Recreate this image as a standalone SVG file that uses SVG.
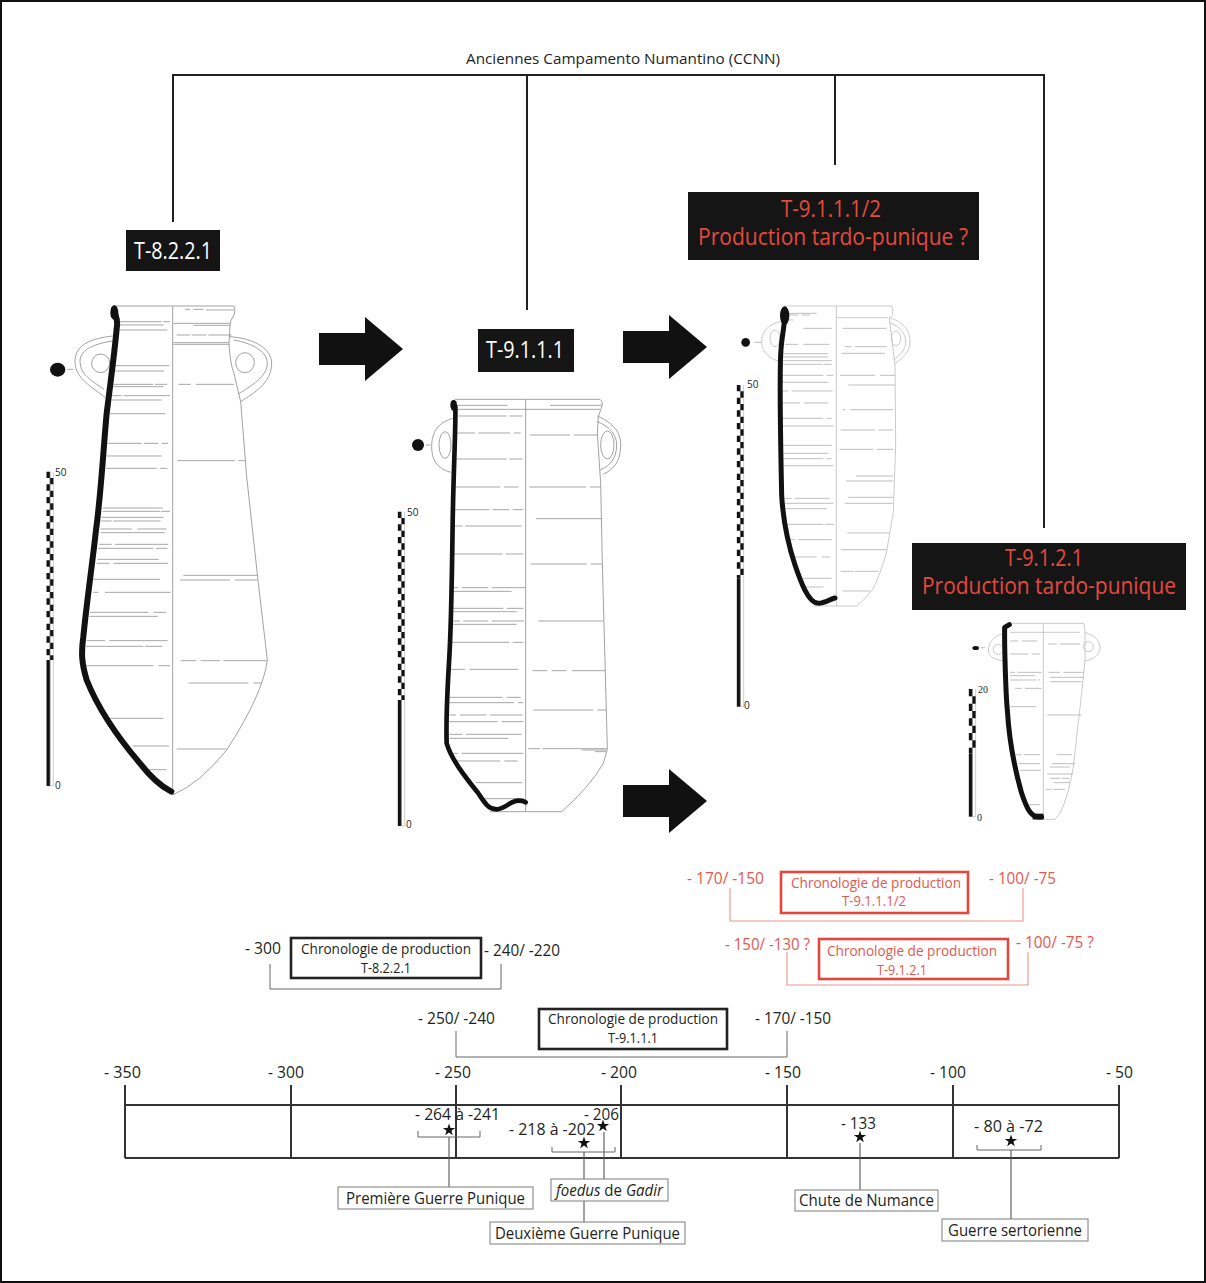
<svg xmlns="http://www.w3.org/2000/svg" width="1206" height="1283" viewBox="0 0 1206 1283">
<style>
text{font-family:"Open Sans","Noto Sans","Liberation Sans",sans-serif;fill:#231f20}
.a{font-size:16px}.b{font-size:15px}.s{font-size:14px}.m{font-size:10px}
.w{font-size:23px;fill:#fff}.r{font-size:23px;fill:#e5493d}
.ra{font-size:16px;fill:#e5584c}.rb{font-size:15px;fill:#e5584c}
.line{fill:none;stroke:#231f20;stroke-width:2}
.tl{fill:none;stroke:#333;stroke-width:2}
.tick{fill:none;stroke:#999;stroke-width:2.6}
.tick3{fill:none;stroke:#b5b5b5;stroke-width:2.6}
.out{fill:none;stroke:#8a8a8a;stroke-width:2.4;stroke-linejoin:round}
.out3{fill:none;stroke:#bdbdbd;stroke-width:2.4;stroke-linejoin:round}
.prof{fill:none;stroke:#111;stroke-linecap:round;stroke-linejoin:round}
.bb{fill:none;stroke:#666;stroke-width:1}
.rbr{fill:none;stroke:#e9968d;stroke-width:1.1}
.pb{fill:#fff;stroke:#222;stroke-width:2.6}
.prb{fill:#fff;stroke:#e0483c;stroke-width:2.6}
.ev{fill:#fff;stroke:#888;stroke-width:1.1}
.lead{fill:none;stroke:#555;stroke-width:1.1}
.c1{fill:none;stroke:#111;stroke-width:11;stroke-dasharray:19 19}
.c2{fill:none;stroke:#111;stroke-width:11;stroke-dasharray:19 19;stroke-dashoffset:19}
</style>
<defs>
<polygon id="star" points="0,-6.5 1.5,-2 6.2,-2 2.4,.8 3.8,5.3 0,2.5 -3.8,5.3 -2.4,.8 -6.2,-2 -1.5,-2" fill="#111"/>
<polygon id="arrow" points="0,16 46,16 46,0 84,32 46,64 46,48 0,48" fill="#111"/>
</defs>
<rect x="1" y="1" width="1204" height="1281" fill="#fff" stroke="#111" stroke-width="2"/>

<g id="connectors">
<path class="line" d="M173 222V75H1044V528M527 75V310M835 75V165"/>
<use href="#arrow" x="319" y="317"/>
<use href="#arrow" x="623" y="315"/>
<use href="#arrow" x="623" y="769"/>
</g>
<text id="title" x="466" y="64" class="b" textLength="314" lengthAdjust="spacingAndGlyphs">Anciennes Campamento Numantino (CCNN)</text>

<g id="node-t8221"><rect x="126" y="230" width="94" height="41" fill="#151515"/><text x="134" y="259" class="w" textLength="78" lengthAdjust="spacingAndGlyphs">T-8.2.2.1</text></g>
<g id="node-t9111"><rect x="478" y="329" width="96" height="43" fill="#151515"/><text x="486" y="358" class="w" textLength="78" lengthAdjust="spacingAndGlyphs">T-9.1.1.1</text></g>
<g id="node-t91112"><rect x="688" y="192" width="291" height="68" fill="#151515"/><text x="781" y="217" class="r" textLength="100" lengthAdjust="spacingAndGlyphs">T-9.1.1.1/2</text><text x="698" y="245" class="r" textLength="270" lengthAdjust="spacingAndGlyphs">Production tardo-punique ?</text></g>
<g id="node-t9121"><rect x="912" y="543" width="274" height="67" fill="#151515"/><text x="1005" y="566" class="r" textLength="78" lengthAdjust="spacingAndGlyphs">T-9.1.2.1</text><text x="922" y="594" class="r" textLength="254" lengthAdjust="spacingAndGlyphs">Production tardo-punique</text></g>

<g id="vessel1" transform="translate(30 290) scale(.33333)">
<path class="out" d="M428 50V1515M250 48H612Q618 60 612 75Q600 90 600 108L597 160Q600 220 612 250L632 335L650 560L685 880L712 1110Q700 1210 590 1380Q510 1480 428 1515M248 138C190 145 135 160 135 215C135 265 185 290 225 322M254 152C200 160 150 175 150 215C150 255 190 275 222 298M597 140C680 145 725 180 725 220C725 280 670 310 632 335M610 150C670 160 712 185 712 220C712 260 660 290 625 312"/>
<ellipse class="out" cx="212" cy="220" rx="27" ry="28"/>
<ellipse class="out" cx="645" cy="218" rx="28" ry="30"/>
<path class="tick" d="M268 95H395M400 95H420M268 105H400M268 120H412M255 227H418M250 243H402M250 283H370M375 283H412M250 290H400M245 317H275M280 317H420M245 330H395M240 371H406M232 460H335M342 460H385M395 460H415M230 498H395M228 535H380M390 535H412M218 654H398M218 664H390M392 664H420M215 682H400M212 693H245M250 693H392M212 717H305M322 717H410M212 728H404M208 763H245M255 763H415M205 775H370M378 775H412M203 808H386M200 820H238M250 820H415M190 868H390M190 907H205M225 907H422M180 967H355M370 967H408M178 979H384M170 1052H225M238 1052H413M168 1069H340M345 1069H397M168 1127H370M385 1127H420M230 1285H400M280 1368H295M308 1368H417M340 1439H410M465 58H480M490 58H520M528 60H612M430 100H600M490 106H600M440 135H480M485 135H530M535 135H605M430 158H597M430 163H597M445 283H482M498 283H612M442 512H615M625 512H645M460 856H682M450 870H600M615 870H682M452 1112H498M512 1112H570M580 1112H710M475 1179H655M670 1179H695M440 1377H590"/>
<path class="prof" stroke-width="18" d="M252 58C254 75 266 85 260 115C256 170 240 290 230 370C220 480 212 620 198 720C186 830 172 920 160 1040C153 1090 155 1120 170 1170C210 1270 270 1350 330 1420C365 1465 395 1490 424 1505"/>
<ellipse cx="253" cy="68" rx="12" ry="22" fill="#111"/>
<ellipse cx="83" cy="239" rx="23" ry="21" fill="#111"/>
<path class="tick" d="M112 238H130"/>
<path class="c1" d="M55 545V1110"/><path class="c2" d="M65 545V1110"/>
<path d="M55 1110V1488" stroke="#111" stroke-width="11" fill="none"/><path d="M60 545V1488H70V545" fill="none" stroke="#999" stroke-width="1.5"/>
</g>
<text x="55" y="476" class="m">50</text><text x="55" y="789" class="m">0</text>

<g id="vessel2" transform="translate(390 390) scale(.33333)">
<path class="out" d="M407 28V1265M195 28H630Q638 32 637 45Q632 60 625 80L622 130L632 280L637 520L650 1000L652 1078L640 1120Q600 1190 515 1265H300M200 58H630M188 85C140 100 125 130 125 170C125 210 140 235 182 247M622 78C670 100 692 125 692 165C692 215 670 240 640 252M622 95C660 110 680 135 680 165C680 205 660 228 630 240"/>
<ellipse class="out" cx="165" cy="165" rx="18" ry="40"/>
<ellipse class="out" cx="652" cy="165" rx="20" ry="42"/>
<path class="tick" d="M200 46H352M480 46H635M205 78H350M358 78H398M195 129H255M265 129H360M372 129H392M200 207H350M358 207H398M198 291H330M342 291H385M195 359H298M308 359H358M368 359H400M195 408H218M225 408H395M190 492H338M347 492H400M190 593H205M215 593H295M305 593H405M190 604H365M190 655H340M350 655H400M190 665H380M190 693H210M220 693H295M305 693H402M190 703H380M185 757H358M368 757H400M180 838H225M238 838H385M178 922H338M350 922H392M178 938H372M385 938H400M178 975H198M210 975H290M300 975H398M178 995H322M335 995H400M178 1033H218M228 1033H395M178 1045H355M185 1090H205M215 1090H400M195 1113H330M343 1113H383M230 1178H245M258 1178H397M285 1226H400M420 135H540M550 135H625M418 291H588M600 291H632M438 386H635M422 522H590M602 522H637M445 693H640M428 842H472M485 842H530M545 842H647M430 960H610M622 960H650M415 1076H450M458 1076H650M575 1080H650M615 1085H650"/>
<path class="prof" stroke-width="14" d="M196 50C198 100 190 250 188 400C186 550 184 700 178 800C172 900 168 1000 170 1060C185 1110 225 1160 265 1210C285 1240 295 1258 320 1258C350 1255 360 1232 385 1232Q400 1232 407 1237"/>
<ellipse cx="191" cy="46" rx="10" ry="17" fill="#111"/>
<circle cx="84" cy="165" r="18" fill="#111"/>
<path class="tick" d="M108 165H122"/>
<path class="c1" d="M29 365V930"/><path class="c2" d="M39 365V930"/>
<path d="M29 930V1308" stroke="#111" stroke-width="11" fill="none"/><path d="M34 365V1308H44V365" fill="none" stroke="#999" stroke-width="1.5"/>
</g>
<text x="407" y="516" class="m">50</text><text x="406" y="828" class="m">0</text>

<g id="vessel3" transform="translate(730 295) scale(.33333)">
<path class="out3" d="M319 33V933M160 33H485Q490 45 488 60L478 70L495 210L497 450L490 650L470 770Q450 840 430 880Q405 915 380 933H250M320 68H475M160 78C115 85 95 110 95 140C95 170 115 190 150 200M478 68C520 80 540 105 540 140C540 170 520 190 495 205M478 82C510 95 527 115 527 140C527 165 510 180 490 195"/>
<ellipse class="out3" cx="135" cy="130" rx="15" ry="25"/>
<ellipse class="out3" cx="498" cy="130" rx="14" ry="22"/>
<path class="tick3" d="M175 55H260M175 60H205M215 60H240M170 75H190M220 100H305M165 148H205M220 148H298M160 176H295M160 186H295M160 197H305M160 208H275M280 208H305M158 241H280M290 241H310M158 262H295M158 288H175M185 288H308M158 324H210M222 324H295M158 370H280M290 370H305M158 393H310M160 451H305M160 475H295M160 491H280M290 491H305M160 512H310M165 610H185M195 610H300M165 625H310M165 641H290M170 688H280M285 688H312M180 734H195M205 734H305M195 786H260M275 786H300M215 850H305M225 876H280M338 100H470M345 155H365M375 155H470M335 175H465M330 241H435M450 241H495M355 270H495M338 344H345M360 344H490M332 405H435M445 405H490M328 463H430M440 463H490M378 543H490M348 558H490M355 607H490M345 625H488M352 714H478M332 764H470M332 829H370M375 829H445M338 888H420"/>
<path class="prof" stroke-width="15" d="M163 50C168 85 155 110 152 180C148 280 152 450 155 600C160 690 175 750 195 810C212 860 235 925 265 925C285 925 300 912 315 909"/>
<ellipse cx="164" cy="62" rx="14" ry="28" fill="#111"/>
<circle cx="47" cy="142" r="13" fill="#111"/>
<path class="tick3" d="M72 142H95"/>
<path class="c1" d="M26 270V850"/><path class="c2" d="M36 270V850"/>
<path d="M26 850V1235" stroke="#111" stroke-width="11" fill="none"/><path d="M31 270V1235H41V270" fill="none" stroke="#999" stroke-width="1.5"/>
</g>
<text x="747" y="388" class="m">50</text><text x="744" y="709" class="m">0</text>

<g id="vessel4" transform="translate(960 610) scale(.33333)">
<path class="out3" d="M250 40V628M145 40H372L375 65V150L365 250L340 470Q325 560 300 610L285 628H215M150 67H360M135 70C100 75 85 100 85 120C85 140 105 150 130 152M375 68C405 75 420 95 420 112C420 135 400 150 375 152"/>
<circle class="out3" cx="115" cy="118" r="15"/>
<circle class="out3" cx="385" cy="110" r="15"/>
<path class="tick3" d="M150 93H175M185 93H232M265 102H290M300 102H360M150 132H205M215 132H240M150 187H165M172 187H245M265 187H300M310 187H372M150 197H225M150 210H230M235 210H240M270 215H365M270 202H372M165 235H185M195 235H245M150 290H228M262 315H365M168 434H185M192 434H240M290 434H335M175 461H240M275 461H345M180 481H243M270 471H330M262 492H340M270 505H300M306 505H328M280 518H330M258 538H275M280 538H315M205 584H240"/>
<path class="prof" stroke-width="15" d="M148 44L134 52C133 100 137 250 142 300C148 400 165 480 185 550C200 595 212 620 235 621H245"/>
<rect x="218" y="611" width="32" height="17" fill="#111"/>
<ellipse cx="47" cy="114" rx="10" ry="6" fill="#111"/>
<path class="tick3" d="M62 113H75"/>
<path class="c1" style="stroke-dasharray:22 22" d="M32 237V430"/><path class="c2" style="stroke-dasharray:22 22;stroke-dashoffset:22" d="M42 237V430"/>
<path d="M32 430V620" stroke="#111" stroke-width="11" fill="none"/><path d="M37 237V620H47V237" fill="none" stroke="#999" stroke-width="1.5"/>
</g>
<text x="978" y="693" class="m" style="font-family:'Liberation Serif',serif">20</text><text x="977" y="821" class="m" style="font-family:'Liberation Serif',serif">0</text>

<g id="chrono-red">
<path class="rbr" d="M730 888V921H1023V888M787 952V985H1028V952"/>
<text x="687" y="884" class="ra" textLength="77" lengthAdjust="spacingAndGlyphs">- 170/ -150</text>
<rect class="prb" x="781" y="872" width="187" height="41"/>
<text x="791" y="888" class="rb" textLength="170" lengthAdjust="spacingAndGlyphs">Chronologie de production</text>
<text x="842" y="906" class="rb" textLength="64" lengthAdjust="spacingAndGlyphs">T-9.1.1.1/2</text>
<text x="989" y="884" class="ra" textLength="67" lengthAdjust="spacingAndGlyphs">- 100/ -75</text>
<text x="725" y="950" class="ra" textLength="85" lengthAdjust="spacingAndGlyphs">- 150/ -130 ?</text>
<rect class="prb" x="819" y="939" width="189" height="40"/>
<text x="827" y="956" class="rb" textLength="170" lengthAdjust="spacingAndGlyphs">Chronologie de production</text>
<text x="877" y="975" class="rb" textLength="50" lengthAdjust="spacingAndGlyphs">T-9.1.2.1</text>
<text x="1016" y="948" class="ra" textLength="78" lengthAdjust="spacingAndGlyphs">- 100/ -75 ?</text>
</g>

<g id="chrono-t8221">
<path class="bb" d="M270 964V989H501V964"/>
<text x="245" y="954" class="a" textLength="36" lengthAdjust="spacingAndGlyphs">- 300</text>
<rect class="pb" x="291" y="938" width="190" height="40"/>
<text x="301" y="954" class="b" textLength="170" lengthAdjust="spacingAndGlyphs">Chronologie de production</text>
<text x="361" y="973" class="s" textLength="50" lengthAdjust="spacingAndGlyphs">T-8.2.2.1</text>
<text x="484" y="956" class="a" textLength="76" lengthAdjust="spacingAndGlyphs">- 240/ -220</text>
</g>
<g id="chrono-t9111">
<path class="bb" d="M456 1031V1057H787V1031"/>
<text x="418" y="1024" class="a" textLength="77" lengthAdjust="spacingAndGlyphs">- 250/ -240</text>
<rect class="pb" x="539" y="1009" width="188" height="40"/>
<text x="548" y="1024" class="b" textLength="170" lengthAdjust="spacingAndGlyphs">Chronologie de production</text>
<text x="608" y="1043" class="s" textLength="50" lengthAdjust="spacingAndGlyphs">T-9.1.1.1</text>
<text x="755" y="1024" class="a" textLength="76" lengthAdjust="spacingAndGlyphs">- 170/ -150</text>
</g>

<g id="timeline">
<path class="tl" d="M125 1105H1119M125 1158H1119M125 1085V1158M291 1085V1158M456 1085V1158M621 1085V1158M787 1085V1158M953 1085V1158M1119 1085V1158"/>
<text x="104" y="1078" class="a" textLength="37" lengthAdjust="spacingAndGlyphs">- 350</text>
<text x="268" y="1078" class="a" textLength="36" lengthAdjust="spacingAndGlyphs">- 300</text>
<text x="435" y="1078" class="a" textLength="36" lengthAdjust="spacingAndGlyphs">- 250</text>
<text x="601" y="1078" class="a" textLength="36" lengthAdjust="spacingAndGlyphs">- 200</text>
<text x="765" y="1078" class="a" textLength="36" lengthAdjust="spacingAndGlyphs">- 150</text>
<text x="930" y="1078" class="a" textLength="36" lengthAdjust="spacingAndGlyphs">- 100</text>
<text x="1106" y="1078" class="a" textLength="27" lengthAdjust="spacingAndGlyphs">- 50</text>
</g>

<g id="event-punique1">
<path class="bb" d="M418 1131V1137H480V1131"/>
<path class="lead" stroke="#888" d="M449 1137V1187"/>
<text x="415" y="1120" class="a" textLength="85" lengthAdjust="spacingAndGlyphs">- 264  à -241</text>
<use href="#star" x="449" y="1130"/>
<rect class="ev" x="338" y="1187" width="195" height="22"/>
<text x="346" y="1204" class="a" textLength="179" lengthAdjust="spacingAndGlyphs">Première Guerre Punique</text>
</g>
<g id="event-punique2">
<path class="bb" d="M552 1147V1152H615V1147"/>
<path class="lead" d="M584 1152V1222"/>
<text x="509" y="1135" class="a" textLength="86" lengthAdjust="spacingAndGlyphs">- 218  à -202</text>
<use href="#star" x="584" y="1143"/>
<rect class="ev" x="490" y="1222" width="195" height="22"/>
<text x="495" y="1239" class="a" textLength="185" lengthAdjust="spacingAndGlyphs">Deuxième Guerre Punique</text>
</g>
<g id="event-foedus">
<path class="lead" d="M604 1132V1179"/>
<text x="584" y="1120" class="a" textLength="35" lengthAdjust="spacingAndGlyphs">- 206</text>
<use href="#star" x="603" y="1126"/>
<rect class="ev" x="551" y="1179" width="117" height="22"/>
<text x="556" y="1196" class="a" textLength="107" lengthAdjust="spacingAndGlyphs"><tspan font-style="italic">foedus</tspan> de <tspan font-style="italic">Gadir</tspan></text>
</g>
<g id="event-numance">
<path class="lead" d="M860 1143V1190"/>
<text x="841" y="1129" class="a" textLength="35" lengthAdjust="spacingAndGlyphs">- 133</text>
<use href="#star" x="860" y="1137"/>
<rect class="ev" x="795" y="1190" width="143" height="21"/>
<text x="799" y="1206" class="a" textLength="135" lengthAdjust="spacingAndGlyphs">Chute de Numance</text>
</g>
<g id="event-sertorius">
<path class="bb" d="M977 1145V1150H1041V1145"/>
<path class="lead" d="M1011 1150V1219"/>
<text x="974" y="1132" class="a" textLength="69" lengthAdjust="spacingAndGlyphs">- 80  à -72</text>
<use href="#star" x="1011" y="1141"/>
<rect class="ev" x="942" y="1219" width="146" height="22"/>
<text x="948" y="1236" class="a" textLength="134" lengthAdjust="spacingAndGlyphs">Guerre sertorienne</text>
</g>
</svg>
